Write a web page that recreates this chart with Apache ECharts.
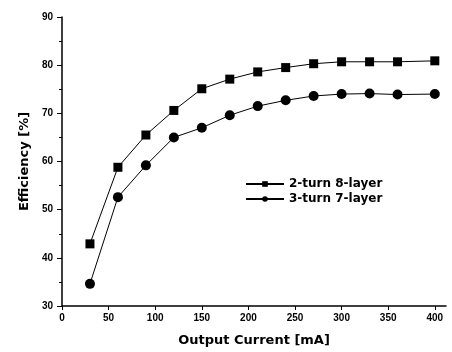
<!DOCTYPE html>
<html>
<head>
<meta charset="utf-8">
<script src="https://cdn.jsdelivr.net/npm/echarts@6/dist/echarts.min.js"></script>
<style>
  html, body { margin: 0; padding: 0; background: #fff; }
  #chart { width: 452px; height: 352px; }
</style>
</head>
<body>
<div id="chart"></div>
<script>
var current = [30, 60, 90, 120, 150, 180, 210, 240, 270, 300, 330, 360, 400];
var eff8layer = [42.9, 58.8, 65.5, 70.6, 75.1, 77.1, 78.6, 79.5, 80.3, 80.7, 80.7, 80.7, 80.9];
var eff7layer = [34.6, 52.6, 59.2, 65.0, 67.0, 69.6, 71.5, 72.7, 73.6, 74.0, 74.1, 73.9, 74.0];
var xTicks = [0, 50, 100, 150, 200, 250, 300, 350, 400];
var seriesNames = ['2-turn 8-layer', '3-turn 7-layer'];

function pairs(xs, ys) {
  return xs.map(function (x, i) { return [x, ys[i]]; });
}

var chart = echarts.init(document.getElementById('chart'));
var font = 'Liberation Sans, Arial, sans-serif';
var wide = 'DejaVu Sans, sans-serif';

var option = {
  animation: false,
  backgroundColor: '#fff',
  grid: { left: 62, right: 6, top: 17, bottom: 46 },
  legend: {
    orient: 'vertical',
    left: 240,
    top: 173,
    itemWidth: 38,
    itemHeight: 7,
    itemGap: 3,
    textStyle: { fontFamily: wide, fontWeight: 'bold', fontSize: 12, color: '#000' },
    data: seriesNames
  },
  xAxis: {
    type: 'value',
    min: 0,
    max: 412,
    name: 'Output Current [mA]',
    nameLocation: 'middle',
    nameGap: 28,
    nameTextStyle: { fontFamily: wide, fontWeight: 'bold', fontSize: 13, color: '#000' },
    axisLine: { lineStyle: { color: '#000', width: 1.5 } },
    axisTick: { show: true, length: 4, lineStyle: { color: '#000' }, customValues: xTicks },
    minorTick: { show: true, splitNumber: 2, length: 2, lineStyle: { color: '#000' } },
    axisLabel: { customValues: xTicks, fontFamily: font, fontWeight: 'bold', fontSize: 10, color: '#000', margin: 7 },
    splitLine: { show: false }
  },
  yAxis: {
    type: 'value',
    min: 30,
    max: 90,
    interval: 10,
    name: 'Efficiency [%]',
    nameLocation: 'middle',
    nameGap: 31,
    nameTextStyle: { fontFamily: wide, fontWeight: 'bold', fontSize: 13, color: '#000' },
    axisLine: { show: true, lineStyle: { color: '#000', width: 1.5 } },
    axisTick: { show: true, length: 5, lineStyle: { color: '#000' } },
    minorTick: { show: true, splitNumber: 2, length: 3, lineStyle: { color: '#000' } },
    axisLabel: { fontFamily: font, fontWeight: 'bold', fontSize: 10, color: '#000', margin: 9 },
    splitLine: { show: false }
  },
  series: [
    {
      name: seriesNames[0],
      type: 'line',
      data: pairs(current, eff8layer),
      symbol: 'rect',
      symbolSize: 9,
      itemStyle: { color: '#000' },
      lineStyle: { color: '#000', width: 1 }
    },
    {
      name: seriesNames[1],
      type: 'line',
      data: pairs(current, eff7layer),
      symbol: 'circle',
      symbolSize: 10,
      itemStyle: { color: '#000' },
      lineStyle: { color: '#000', width: 1 }
    }
  ]
};

chart.setOption(option);
</script>
</body>
</html>
